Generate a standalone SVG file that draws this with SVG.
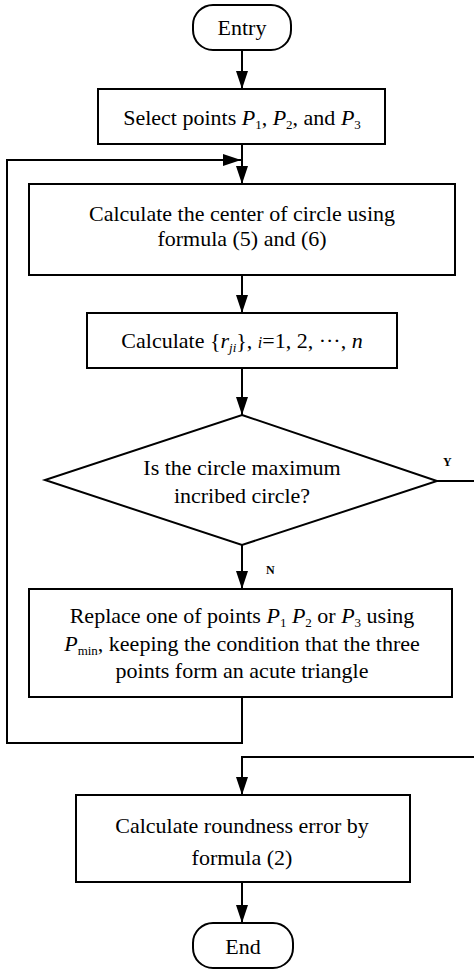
<svg xmlns="http://www.w3.org/2000/svg" width="474" height="971" viewBox="0 0 474 971">
<style>
.box{fill:#fff;stroke:#000;stroke-width:2}
.ln{fill:none;stroke:#000;stroke-width:2}
.t{font-family:"Liberation Serif","Times New Roman",serif;font-size:22px;fill:#000;text-anchor:middle}
.i{font-style:italic}
.sub{font-size:13px}
.lbl{font-family:"Liberation Serif","Times New Roman",serif;font-size:12px;font-weight:bold;fill:#000}
</style>
<defs>
<marker id="ah" viewBox="0 0 18 12" refX="18" refY="6" markerWidth="18" markerHeight="12" markerUnits="userSpaceOnUse" orient="auto">
<path d="M0,0 L18,6 L0,12 z" fill="#000"/>
</marker>
</defs>
<g id="connectors">
<line class="ln" x1="242" y1="50" x2="242" y2="89" marker-end="url(#ah)"/>
<line class="ln" x1="242" y1="144" x2="242" y2="184" marker-end="url(#ah)"/>
<polyline class="ln" points="242,697 242,743 7,743 7,160 241,160" marker-end="url(#ah)"/>
<line class="ln" x1="242" y1="275" x2="242" y2="313" marker-end="url(#ah)"/>
<line class="ln" x1="242" y1="368" x2="242" y2="415" marker-end="url(#ah)"/>
<line class="ln" x1="242" y1="545" x2="242" y2="589" marker-end="url(#ah)"/>
<line class="ln" x1="437" y1="481" x2="474" y2="481"/>
<polyline class="ln" points="474,757 242,757 242,795" marker-end="url(#ah)"/>
<line class="ln" x1="242" y1="882" x2="242" y2="923" marker-end="url(#ah)"/>
<text class="lbl" x="443" y="466">Y</text>
<text class="lbl" x="266" y="574">N</text>
</g>
<g id="entry">
<rect class="box" x="193" y="5" width="98" height="45" rx="20"/>
<text class="t" x="242" y="35">Entry</text>
</g>
<g id="select">
<rect class="box" x="98" y="89" width="287" height="55"/>
<text class="t" x="242" y="125">Select points <tspan class="i">P</tspan><tspan class="sub" dy="4">1</tspan><tspan dy="-4">, </tspan><tspan class="i">P</tspan><tspan class="sub" dy="4">2</tspan><tspan dy="-4">, and </tspan><tspan class="i">P</tspan><tspan class="sub" dy="4">3</tspan></text>
</g>
<g id="center">
<rect class="box" x="29" y="184" width="426" height="91"/>
<text class="t" x="242" y="221">Calculate the center of circle using</text>
<text class="t" x="242" y="246">formula (5) and (6)</text>
</g>
<g id="calcr">
<rect class="box" x="87" y="313" width="310" height="55"/>
<text class="t" x="242" y="348">Calculate {<tspan class="i">r</tspan><tspan class="sub i" dy="4">ji</tspan><tspan dy="-4">}, </tspan><tspan class="i" font-size="16">i</tspan>=1, 2, ···, <tspan class="i">n</tspan></text>
</g>
<g id="decision">
<polygon class="box" points="242,415 437,481 242,545 45,480"/>
<text class="t" x="242" y="475">Is the circle maximum</text>
<text class="t" x="242" y="503">incribed circle?</text>
</g>
<g id="replace">
<rect class="box" x="29" y="589" width="423" height="108"/>
<text class="t" x="242" y="623">Replace one of points <tspan class="i">P</tspan><tspan class="sub" dy="4">1</tspan><tspan dy="-4"> </tspan><tspan class="i">P</tspan><tspan class="sub" dy="4">2</tspan><tspan dy="-4"> or </tspan><tspan class="i">P</tspan><tspan class="sub" dy="4">3</tspan><tspan dy="-4"> using</tspan></text>
<text class="t" x="242" y="651"><tspan class="i">P</tspan><tspan class="sub" dy="4">min</tspan><tspan dy="-4">, keeping the condition that the three</tspan></text>
<text class="t" x="242" y="678">points form an acute triangle</text>
</g>
<g id="roundness">
<rect class="box" x="76" y="795" width="334" height="87"/>
<text class="t" x="242" y="833">Calculate roundness error by</text>
<text class="t" x="242" y="865">formula (2)</text>
</g>
<g id="end">
<rect class="box" x="193" y="923" width="100" height="45" rx="20"/>
<text class="t" x="243" y="954">End</text>
</g>
</svg>
